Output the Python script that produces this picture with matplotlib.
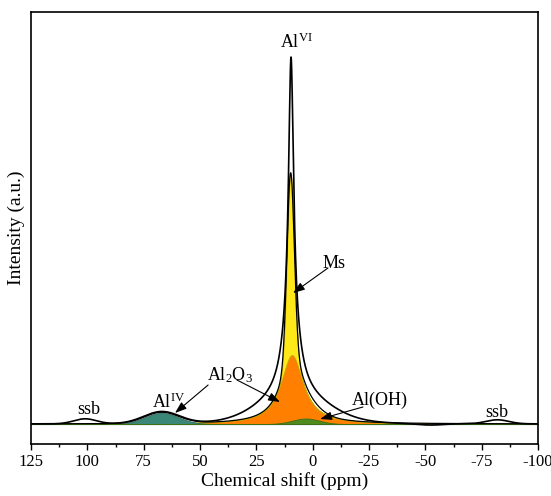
import numpy as np
import matplotlib
matplotlib.use("Agg")
import matplotlib.pyplot as plt

plt.rcParams['font.family'] = ['Liberation Serif', 'DejaVu Serif']
plt.rcParams['mathtext.fontset'] = 'custom'
plt.rcParams['mathtext.rm'] = 'Liberation Serif'
plt.rcParams['mathtext.it'] = 'Liberation Serif:italic'

# ---- data: fitted components (center ppm, height a.u., width ppm, shape) ----
comp_names = ["Al2O3 (VI)", "Ms", "Al2O3 (IV)", "Al(OH)"]
comp_centers = [9.2, 9.8, 67.0, 3.0]
comp_heights = [69.0, 180.0, 11.0, 5.5]
comp_widths = [6.0, 1.6, 7.5, 6.0]
comp_shapes = ["lorentz", "gauss", "gauss", "gauss"]
comp_colors = ["#FF8000", "#FFE81A", "#3B8777", "#4F8A1E"]
comp_edges = ["#D86A00", "#C9B000", "#2E6B5E", "#3C6E14"]
comp_stacked_on = [None, 0, None, None]   # Ms drawn on top of Al2O3 (VI)

# ---- data: measured spectrum peaks (center ppm, height, width, shape) ----
spec_centers = [9.6, 9.6, 8.5, 67.0, 101.0, -82.0, -52.0]
spec_heights = [261.0, 80.0, 26.0, 12.0, 5.0, 4.0, -1.5]
spec_widths = [1.3, 4.0, 15.0, 8.0, 5.0, 5.0, 6.0]
spec_shapes = ["lorentz", "lorentz", "gauss", "gauss", "gauss", "gauss", "gauss"]

x_ticks = [125, 100, 75, 50, 25, 0, -25, -50, -75, -100]
x_tick_labels = ["125", "100", "75", "50", "25", "0", "-25", "-50", "-75", "-100"]

# labels: (text, x ppm, y a.u., ha)
labels = [
    (r"Al$^{\mathrm{VI}}$", 14.5, 376, "left"),
    ("Ms", -4.5, 156, "left"),
    (r"Al$_{2}$O$_{3}$", 36.7, 44, "center"),
    (r"Al$^{\mathrm{IV}}$", 71.3, 16, "left"),
    ("ssb", 104.6, 10, "left"),
    ("Al(OH)", -17.4, 19, "left"),
    ("ssb", -76.5, 7, "left"),
]
# arrows: (tail ppm, tail a.u., head ppm, head a.u.)
arrows = [
    (-6.8, 156, 8.7, 131),
    (46.4, 39, 61.1, 11),
    (33.6, 44, 14.5, 22),
    (-22.3, 17, -3.3, 5),
]


def peak(x, c, h, w, shape):
    if shape == "lorentz":
        return h / (1.0 + ((x - c) / w) ** 2)
    return h * np.exp(-0.5 * ((x - c) / w) ** 2)


ppm = np.linspace(125, -100, 8000)

fig = plt.figure(figsize=(5.51, 4.96), dpi=100)
ax = fig.add_axes([31 / 551, 1 - 444 / 496, (538 - 31) / 551, (444 - 12) / 496])

comps = [peak(ppm, c, h, w, s) for c, h, w, s in
         zip(comp_centers, comp_heights, comp_widths, comp_shapes)]
for y, col, ec, base_idx in zip(comps, comp_colors, comp_edges, comp_stacked_on):
    base = comps[base_idx] if base_idx is not None else np.zeros_like(ppm)
    ax.fill_between(ppm, base, base + y, facecolor=col, edgecolor=ec,
                    linewidth=0.6, zorder=2)

fit_sum = np.sum(comps, axis=0)
spectrum = np.sum([peak(ppm, c, h, w, s) for c, h, w, s in
                   zip(spec_centers, spec_heights, spec_widths, spec_shapes)], axis=0)

ax.plot(ppm, fit_sum, color="black", lw=0.9, zorder=3)
ax.plot(ppm, spectrum, color="black", lw=1.2, zorder=4)
ax.axhline(0, color="black", lw=0.8, zorder=1)

for txt, xx, yy, ha in labels:
    ax.text(xx, yy, txt, ha=ha, va="baseline", fontsize=13, zorder=6)

for tx, ty, hx, hy in arrows:
    ax.annotate("", xy=(hx, hy), xytext=(tx, ty),
                arrowprops=dict(arrowstyle="-|>,head_length=0.7,head_width=0.25",
                                color="black", lw=0.8, shrinkA=0, shrinkB=0),
                zorder=6)

ax.set_xlim(125, -100)
ax.set_ylim(-20, 412)
ax.set_xticks(x_ticks)
ax.set_xticklabels(x_tick_labels)
ax.set_xticks(np.arange(112.5, -100, -25), minor=True)
ax.set_yticks([])
ax.tick_params(axis="x", which="major", direction="out", length=4.5, width=1.0,
               labelsize=12, pad=3)
ax.tick_params(axis="x", which="minor", direction="out", length=2.2, width=1.0)
for sp in ax.spines.values():
    sp.set_linewidth(1.2)

ax.set_xlabel("Chemical shift (ppm)", fontsize=14, labelpad=1)
ax.set_ylabel("Intensity (a.u.)", fontsize=14, labelpad=4)

fig.savefig("out.png", dpi=100)
